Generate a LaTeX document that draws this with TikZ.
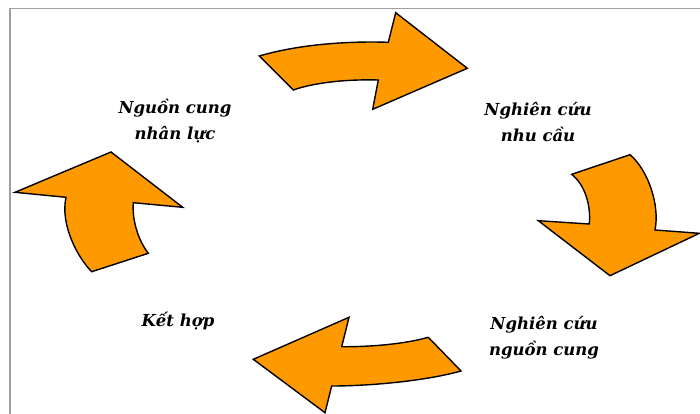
\documentclass[tikz,border=0pt]{standalone}
\usepackage{fontspec}
\setmainfont{DejaVu Serif}
\definecolor{arrowfill}{HTML}{FF9900}
\definecolor{framegray}{HTML}{A0A0A0}
\begin{document}
\begin{tikzpicture}[x=1pt,y=-1pt,
  bentarrow/.style={fill=arrowfill,draw=black,line width=1.4pt,line join=miter},
  cyclelabel/.style={align=center,inner sep=0pt,
    font=\fontsize{16.5}{26}\selectfont\bfseries\itshape}]
\useasboundingbox (0,0) rectangle (700,414);
% frame
\draw[framegray,line width=1.6pt] (10,414) -- (10,8.5) -- (700,8.5);

% top arrow (pointing right)
\draw[bentarrow] (259.3,56) .. controls (300,44) and (350,41) .. (388.3,42.3)
  -- (395.7,12.7) -- (467.3,68.3) -- (372.7,109.3) -- (378.3,80)
  .. controls (340,79) and (310,84) .. (293.3,90) -- cycle;

% right arrow (pointing down)
\draw[bentarrow] (571.7,174.3) -- (630,154.7)
  .. controls (648,170) and (660,205) .. (655,230)
  -- (699.3,233.3) -- (610,275.7) -- (538.3,220.7) -- (589.3,224)
  .. controls (591,205) and (585,185) .. (571.7,174.3) -- cycle;

% bottom arrow (pointing left)
\draw[bentarrow] (253.3,359.3) -- (349,317.3) -- (341.7,346.7)
  .. controls (370,347) and (405,344) .. (428.3,337.3)
  -- (461,371) .. controls (425,381) and (370,386) .. (331.7,386)
  -- (325,412.7) -- cycle;

% left arrow (pointing up)
\draw[bentarrow] (15,192.3) -- (111,152) -- (182.7,207.3) -- (133.3,202.7)
  .. controls (132,220) and (138,240) .. (148.3,253.3)
  -- (91.7,271.7) .. controls (78,258) and (60,225) .. (66,197.3) -- cycle;

% labels
\node[cyclelabel] (supply) at (175,121) {Nguồn cung\\nhân lực};
\node[cyclelabel] (demand) at (538,122) {Nghiên cứu\\nhu cầu};
\node[cyclelabel] (source) at (544,338) {Nghiên cứu\\nguồn cung};
\node[cyclelabel] (combine) at (178,321) {Kết hợp};
\end{tikzpicture}
\end{document}
